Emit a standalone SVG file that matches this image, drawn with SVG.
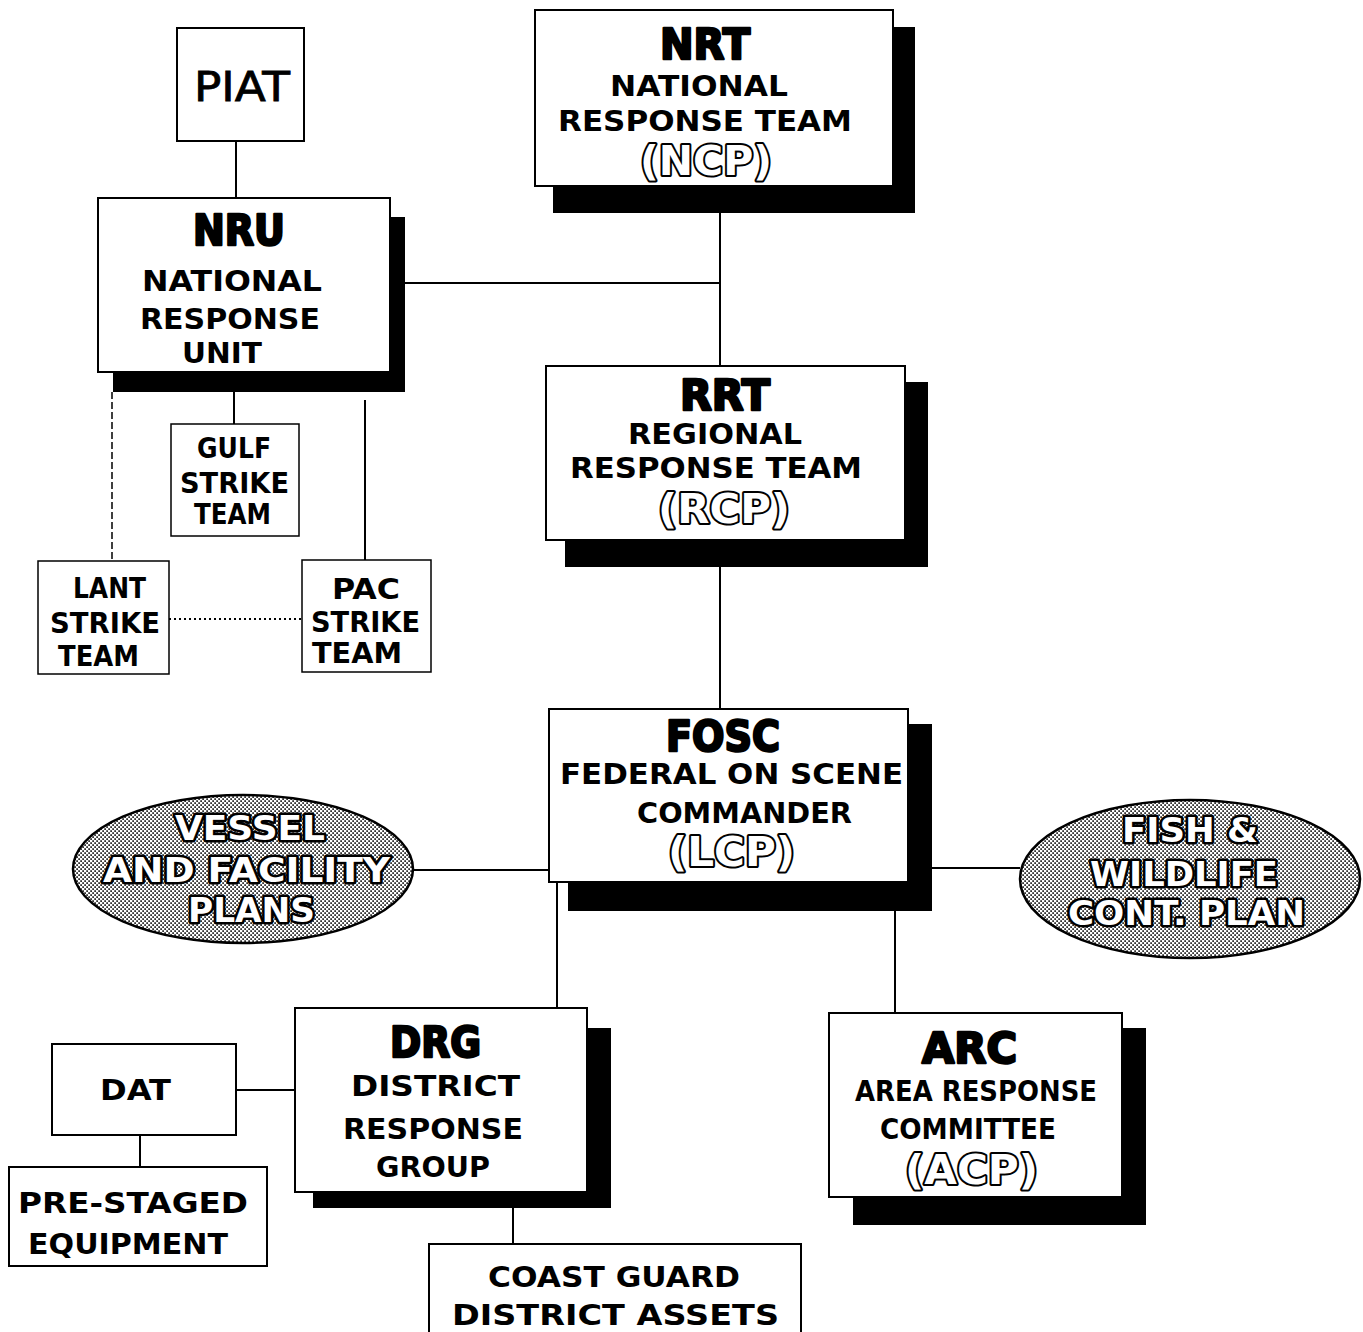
<svg xmlns="http://www.w3.org/2000/svg" width="1363" height="1332" viewBox="0 0 1363 1332">
  <defs>
    <pattern id="halftone" width="4" height="4" patternUnits="userSpaceOnUse">
      <rect width="4" height="4" fill="#ffffff"/>
      <rect x="0.3" y="0.3" width="1.6" height="1.6" fill="#000000"/>
      <rect x="2.3" y="2.3" width="1.6" height="1.6" fill="#000000"/>
    </pattern>
    <style>
      .box { fill: #ffffff; stroke: #000000; stroke-width: 2; }
      .thin { fill: #ffffff; stroke: #000000; stroke-width: 1.5; }
      .shadow { fill: #000000; }
      .oval { fill: url(#halftone); stroke: #000000; stroke-width: 2.5; }
      .t { font-family: "DejaVu Sans", "Liberation Sans", sans-serif; font-weight: bold; font-size: 29px; fill: #000000; }
      .reg { font-family: "DejaVu Sans", "Liberation Sans", sans-serif; font-weight: normal; font-size: 40px; fill: #000000; stroke: #000000; stroke-width: 0.8; }
      .head { font-family: "DejaVu Sans", "Liberation Sans", sans-serif; font-weight: bold; font-size: 42px; fill: #000000; stroke: #000000; stroke-width: 2.5; stroke-linejoin: round; }
      .outl { font-family: "DejaVu Sans", "Liberation Sans", sans-serif; font-weight: bold; font-size: 41px; fill: #ffffff; stroke: #000000; stroke-width: 4; stroke-linejoin: round; paint-order: stroke; }
      .ov { font-family: "DejaVu Sans", "Liberation Sans", sans-serif; font-weight: bold; font-size: 33px; fill: #ffffff; stroke: #000000; stroke-width: 5; stroke-linejoin: round; paint-order: stroke; }
      .ln { fill: none; stroke: #000000; stroke-width: 2; }
      .dash { fill: none; stroke: #000000; stroke-width: 1.5; stroke-dasharray: 7 3; }
      .dot { fill: none; stroke: #000000; stroke-width: 2; stroke-dasharray: 2 3; }
    </style>
  </defs>
  <rect width="1363" height="1332" fill="#ffffff"/>

  <!-- connectors -->
  <g id="connectors">
    <path class="ln" d="M236 141 V198"/>
    <path class="ln" d="M405 283 H720"/>
    <path class="ln" d="M720 213 V366"/>
    <path class="ln" d="M720 567 V709"/>
    <path class="dash" d="M112 392 V561"/>
    <path class="ln" d="M234 392 V424"/>
    <path class="ln" d="M365 400 V560"/>
    <path class="dot" d="M169 619 H302"/>
    <path class="ln" d="M413 870 H549"/>
    <path class="ln" d="M932 868 H1020"/>
    <path class="ln" d="M557 882 V1008"/>
    <path class="ln" d="M895 911 V1013"/>
    <path class="ln" d="M236 1090 H295"/>
    <path class="ln" d="M140 1135 V1167"/>
    <path class="ln" d="M513 1208 V1244"/>
  </g>

  <!-- PIAT -->
  <g id="piat">
    <rect class="box" x="177" y="28" width="127" height="113"/>
    <text class="reg" x="194" y="101" textLength="96" lengthAdjust="spacingAndGlyphs">PIAT</text>
  </g>

  <!-- National Response Unit -->
  <g id="nru">
    <rect class="shadow" x="113" y="217" width="292" height="175"/>
    <rect class="box" x="98" y="198" width="292" height="174"/>
    <text class="head" x="193" y="245" textLength="92" lengthAdjust="spacingAndGlyphs">NRU</text>
    <text class="t" x="142" y="291" textLength="180" lengthAdjust="spacingAndGlyphs">NATIONAL</text>
    <text class="t" x="140" y="329" textLength="180" lengthAdjust="spacingAndGlyphs">RESPONSE</text>
    <text class="t" x="182" y="363" textLength="80" lengthAdjust="spacingAndGlyphs">UNIT</text>
  </g>

  <!-- National Response Team -->
  <g id="nrt">
    <rect class="shadow" x="553" y="27" width="362" height="186"/>
    <rect class="box" x="535" y="10" width="358" height="176"/>
    <text class="head" x="660" y="59" textLength="90" lengthAdjust="spacingAndGlyphs">NRT</text>
    <text class="t" x="610" y="96" textLength="178" lengthAdjust="spacingAndGlyphs">NATIONAL</text>
    <text class="t" x="558" y="131" textLength="294" lengthAdjust="spacingAndGlyphs">RESPONSE TEAM</text>
    <text class="outl" x="640" y="175" textLength="132" lengthAdjust="spacingAndGlyphs">(NCP)</text>
  </g>

  <!-- Regional Response Team -->
  <g id="rrt">
    <rect class="shadow" x="565" y="382" width="363" height="185"/>
    <rect class="box" x="546" y="366" width="359" height="174"/>
    <text class="head" x="680" y="410" textLength="90" lengthAdjust="spacingAndGlyphs">RRT</text>
    <text class="t" x="628" y="444" textLength="174" lengthAdjust="spacingAndGlyphs">REGIONAL</text>
    <text class="t" x="570" y="478" textLength="292" lengthAdjust="spacingAndGlyphs">RESPONSE TEAM</text>
    <text class="outl" x="658" y="523" textLength="132" lengthAdjust="spacingAndGlyphs">(RCP)</text>
  </g>

  <!-- Strike teams -->
  <g id="gulf">
    <rect class="thin" x="171" y="424" width="128" height="112"/>
    <text class="t" x="197" y="458" textLength="74" lengthAdjust="spacingAndGlyphs">GULF</text>
    <text class="t" x="180" y="493" textLength="109" lengthAdjust="spacingAndGlyphs">STRIKE</text>
    <text class="t" x="194" y="524" textLength="77" lengthAdjust="spacingAndGlyphs">TEAM</text>
  </g>
  <g id="lant">
    <rect class="thin" x="38" y="561" width="131" height="113"/>
    <text class="t" x="73" y="598" textLength="73" lengthAdjust="spacingAndGlyphs">LANT</text>
    <text class="t" x="50" y="633" textLength="110" lengthAdjust="spacingAndGlyphs">STRIKE</text>
    <text class="t" x="58" y="666" textLength="81" lengthAdjust="spacingAndGlyphs">TEAM</text>
  </g>
  <g id="pac">
    <rect class="thin" x="302" y="560" width="129" height="112"/>
    <text class="t" x="332" y="599" textLength="68" lengthAdjust="spacingAndGlyphs">PAC</text>
    <text class="t" x="311" y="632" textLength="109" lengthAdjust="spacingAndGlyphs">STRIKE</text>
    <text class="t" x="312" y="663" textLength="90" lengthAdjust="spacingAndGlyphs">TEAM</text>
  </g>

  <!-- Federal On Scene Commander -->
  <g id="fosc">
    <rect class="shadow" x="568" y="724" width="364" height="187"/>
    <rect class="box" x="549" y="709" width="359" height="173"/>
    <text class="head" x="666" y="751" textLength="114" lengthAdjust="spacingAndGlyphs">FOSC</text>
    <text class="t" x="560" y="784" textLength="343" lengthAdjust="spacingAndGlyphs">FEDERAL ON SCENE</text>
    <text class="t" x="637" y="823" textLength="215" lengthAdjust="spacingAndGlyphs">COMMANDER</text>
    <text class="outl" x="668" y="866" textLength="127" lengthAdjust="spacingAndGlyphs">(LCP)</text>
  </g>

  <!-- Vessel and facility plans -->
  <g id="vessel-plans">
    <ellipse class="oval" cx="243" cy="869" rx="170" ry="74"/>
    <text class="ov" x="175" y="840" textLength="150" lengthAdjust="spacingAndGlyphs">VESSEL</text>
    <text class="ov" x="103" y="882" textLength="287" lengthAdjust="spacingAndGlyphs">AND FACILITY</text>
    <text class="ov" x="188" y="922" textLength="127" lengthAdjust="spacingAndGlyphs">PLANS</text>
  </g>

  <!-- Fish and wildlife plan -->
  <g id="fish-wildlife">
    <ellipse class="oval" cx="1190" cy="879" rx="170" ry="79"/>
    <text class="ov" x="1122" y="842" textLength="136" lengthAdjust="spacingAndGlyphs">FISH &amp;</text>
    <text class="ov" x="1090" y="886" textLength="188" lengthAdjust="spacingAndGlyphs">WILDLIFE</text>
    <text class="ov" x="1068" y="925" textLength="237" lengthAdjust="spacingAndGlyphs">CONT. PLAN</text>
  </g>

  <!-- District Response Group -->
  <g id="drg">
    <rect class="shadow" x="313" y="1028" width="298" height="180"/>
    <rect class="box" x="295" y="1008" width="292" height="184"/>
    <text class="head" x="390" y="1057" textLength="91" lengthAdjust="spacingAndGlyphs">DRG</text>
    <text class="t" x="351" y="1096" textLength="169" lengthAdjust="spacingAndGlyphs">DISTRICT</text>
    <text class="t" x="343" y="1139" textLength="180" lengthAdjust="spacingAndGlyphs">RESPONSE</text>
    <text class="t" x="376" y="1177" textLength="114" lengthAdjust="spacingAndGlyphs">GROUP</text>
  </g>

  <!-- DAT -->
  <g id="dat">
    <rect class="box" x="52" y="1044" width="184" height="91"/>
    <text class="t" x="100" y="1100" textLength="71" lengthAdjust="spacingAndGlyphs">DAT</text>
  </g>

  <!-- Pre-staged equipment -->
  <g id="pre-staged">
    <rect class="box" x="9" y="1167" width="258" height="99"/>
    <text class="t" x="18" y="1213" textLength="230" lengthAdjust="spacingAndGlyphs">PRE-STAGED</text>
    <text class="t" x="28" y="1254" textLength="200" lengthAdjust="spacingAndGlyphs">EQUIPMENT</text>
  </g>

  <!-- Coast Guard district assets -->
  <g id="cg-assets">
    <rect class="box" x="429" y="1244" width="372" height="100"/>
    <text class="t" x="488" y="1287" textLength="252" lengthAdjust="spacingAndGlyphs">COAST GUARD</text>
    <text class="t" x="452" y="1325" textLength="327" lengthAdjust="spacingAndGlyphs">DISTRICT ASSETS</text>
  </g>

  <!-- Area Response Committee -->
  <g id="arc">
    <rect class="shadow" x="853" y="1028" width="293" height="197"/>
    <rect class="box" x="829" y="1013" width="293" height="184"/>
    <text class="head" x="922" y="1063" textLength="95" lengthAdjust="spacingAndGlyphs">ARC</text>
    <text class="t" x="855" y="1101" textLength="242" lengthAdjust="spacingAndGlyphs">AREA RESPONSE</text>
    <text class="t" x="880" y="1139" textLength="176" lengthAdjust="spacingAndGlyphs">COMMITTEE</text>
    <text class="outl" x="905" y="1184" textLength="133" lengthAdjust="spacingAndGlyphs">(ACP)</text>
  </g>
</svg>
